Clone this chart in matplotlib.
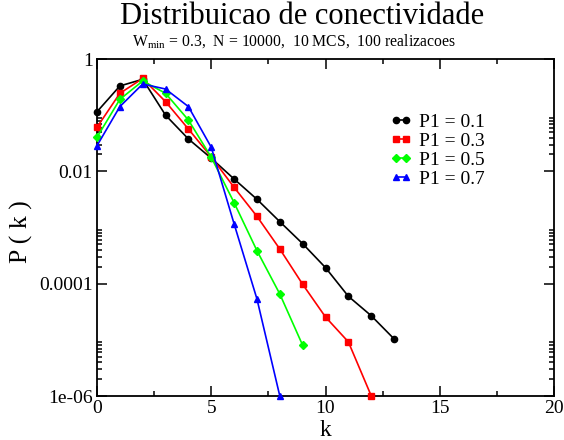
import numpy as np
import matplotlib
matplotlib.use("Agg")
import matplotlib.pyplot as plt
from matplotlib.ticker import LogLocator, MultipleLocator, FixedLocator, FixedFormatter

plt.rcParams['font.family'] = ['Liberation Serif', 'DejaVu Serif']
plt.rcParams['mathtext.fontset'] = 'custom'
plt.rcParams['mathtext.rm'] = 'Liberation Serif'

# Data
k_01 = [0, 1, 2, 3, 4, 5, 6, 7, 8, 9, 10, 11, 12, 13]
p_01 = [0.115, 0.331, 0.435, 0.100, 0.0377, 0.0171, 0.0073, 0.00318, 0.00127,
        0.000515, 0.000193, 5.96e-5, 2.69e-5, 1.04e-5]
k_03 = [0, 1, 2, 3, 4, 5, 6, 7, 8, 9, 10, 11, 12]
p_03 = [0.0608, 0.245, 0.45, 0.174, 0.0567, 0.018, 0.00519, 0.00158, 0.000414,
        9.75e-5, 2.55e-5, 9.2e-6, 1.01e-6]
k_05 = [0, 1, 2, 3, 4, 5, 6, 7, 8, 9]
p_05 = [0.0403, 0.191, 0.406, 0.245, 0.082, 0.0178, 0.00277, 0.000387, 6.55e-5, 8.0e-6]
k_07 = [0, 1, 2, 3, 4, 5, 6, 7, 8]
p_07 = [0.0286, 0.142, 0.359, 0.292, 0.142, 0.0268, 0.00116, 5.34e-5, 1.0e-6]

labels = ['P1 = 0.1', 'P1 = 0.3', 'P1 = 0.5', 'P1 = 0.7']
title = 'Distribuicao de conectividade'
subtitle = r'W$_{\rm min}$ = 0.3,  N = 10000,  10 MCS,  100 realizacoes'
yticks = [1, 0.01, 0.0001, 1e-6]
yticklabels = ['1', '0.01', '0.0001', '1e-06']
xticks = [0, 5, 10, 15, 20]

fig = plt.figure(figsize=(5.64, 4.40), dpi=100)
ax = fig.add_axes([97/564, 1-396/440, (554-97)/564, (396-59)/440])

styles = [('black', 'o', 4.5), ('red', 's', 4.2), ('#00ff00', 'D', 3.6), ('blue', '^', 4.6)]
series = [(k_01, p_01), (k_03, p_03), (k_05, p_05), (k_07, p_07)]
for (kk, pp), (c, m, ms), lab in zip(series, styles, labels):
    ax.plot(kk, pp, color=c, marker=m, markersize=ms, linewidth=1.2,
            markeredgecolor=c, markerfacecolor=c, label=lab, clip_on=False, zorder=3)

ax.set_yscale('log')
ax.set_xlim(0, 20)
ax.set_ylim(1e-6, 1)
ax.yaxis.set_major_locator(FixedLocator(yticks))
ax.yaxis.set_major_formatter(FixedFormatter(yticklabels))
ax.yaxis.set_minor_locator(LogLocator(base=100, subs=np.arange(2, 10)))
ax.xaxis.set_major_locator(FixedLocator(xticks))
ax.xaxis.set_minor_locator(MultipleLocator(2.5))

ax.tick_params(which='both', direction='in', top=True, right=True, labelsize=14,
               width=1.1, colors='black')
ax.tick_params(which='major', length=7, pad=3)
ax.tick_params(which='minor', length=3.6)
for s in ax.spines.values():
    s.set_linewidth(1.3)

ax.set_xlabel('k', fontsize=17, labelpad=2)
ax.set_ylabel('P ( k )', fontsize=18.5)
ax.yaxis.set_label_coords(-0.14, 0.487)

fig.text(302/564, 1-17/440, title, fontsize=22, ha='center', va='center')
fig.text(294/564, 1-42/440, subtitle, fontsize=11.3, ha='center', va='center')

ax.legend(loc='upper left', bbox_to_anchor=(390/564, 1-113/440), bbox_transform=fig.transFigure,
          frameon=False, fontsize=14, numpoints=2, handlelength=1.1, handletextpad=0.4,
          labelspacing=0.08, borderpad=0, borderaxespad=0)

fig.savefig('out.png', dpi=100)
